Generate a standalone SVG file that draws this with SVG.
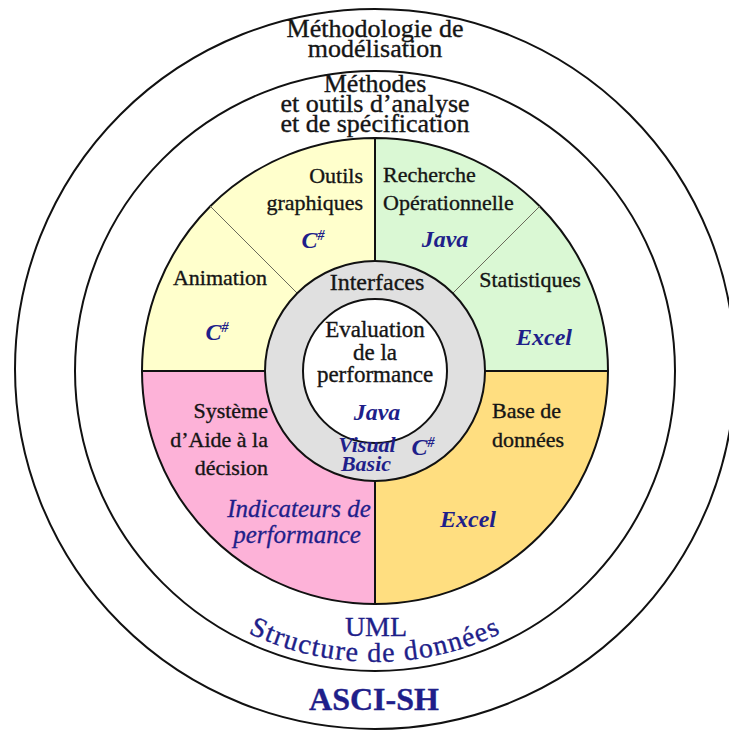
<svg xmlns="http://www.w3.org/2000/svg" width="729" height="731" viewBox="0 0 729 731">
<style>
.ring{fill:none;stroke:#111;stroke-width:2}
.sect{stroke:#111;stroke-width:2}
.diag{stroke:#6a6a5a;stroke-width:1}
.t{font-family:"Liberation Serif","Times New Roman",serif;fill:#151515;stroke:#151515;stroke-width:0.35}
.title{font-size:26px}
.lab{font-size:22px}
.blue{font-family:"Liberation Serif","Times New Roman",serif;fill:#1f1f8a;font-style:italic;font-weight:bold;font-size:24px}
.bluei{font-family:"Liberation Serif","Times New Roman",serif;fill:#1f1f8a;stroke:#1f1f8a;stroke-width:0.3;font-style:italic;font-size:25px}
.blueu{font-family:"Liberation Serif","Times New Roman",serif;fill:#1f1f8a;stroke:#1f1f8a;stroke-width:0.35;font-size:28px}
.sup{font-size:14px}
</style>
<defs>
<path id="arcBottom" d="M 84,371 A 291,291 0 0 0 666,371"/>
</defs>
<rect width="729" height="731" fill="#fff"/>

<g id="asci-sh">
<circle class="ring" cx="375" cy="369" r="360"/>
<text class="blueu" x="374" y="710" text-anchor="middle" font-weight="bold" style="font-size:32px">ASCI-SH</text>
</g>

<g id="methodologie">
<circle class="ring" cx="375" cy="371" r="300"/>
<text class="t title" x="375" y="37" text-anchor="middle">Méthodologie de</text>
<text class="t title" x="375" y="57" text-anchor="middle">modélisation</text>
<text class="blueu" x="376" y="636" text-anchor="middle">UML</text>
<text class="blueu" letter-spacing="1.4"><textPath href="#arcBottom" startOffset="50%" text-anchor="middle">Structure de données</textPath></text>
</g>

<g id="methodes">
<text class="t title" x="375" y="92" text-anchor="middle">Méthodes</text>
<text class="t title" x="375" y="112" text-anchor="middle">et outils d’analyse</text>
<text class="t title" x="375" y="132" text-anchor="middle">et de spécification</text>
</g>

<g id="outils-graphiques">
<path class="sect" fill="#FFFFCC" d="M375,371 L142,371 A233,233 0 0 1 375,138 Z"/>
<text class="t lab" x="363" y="183" text-anchor="end">Outils</text>
<text class="t lab" x="363" y="210" text-anchor="end">graphiques</text>
<text class="blue" x="313" y="248" text-anchor="middle">C<tspan class="sup" dy="-8">#</tspan></text>
<text class="t lab" x="220" y="285" text-anchor="middle">Animation</text>
<text class="blue" x="217" y="340" text-anchor="middle">C<tspan class="sup" dy="-8">#</tspan></text>
</g>

<g id="recherche-operationnelle">
<path class="sect" fill="#DAF8D4" d="M375,371 L375,138 A233,233 0 0 1 608,371 Z"/>
<text class="t lab" x="383" y="182">Recherche</text>
<text class="t lab" x="383" y="210">Opérationnelle</text>
<text class="blue" x="445" y="247" text-anchor="middle">Java</text>
<text class="t lab" x="530" y="287" text-anchor="middle">Statistiques</text>
<text class="blue" x="544" y="345" text-anchor="middle">Excel</text>
</g>

<g id="base-de-donnees">
<path class="sect" fill="#FFDE80" d="M375,371 L608,371 A233,233 0 0 1 375,604 Z"/>
<text class="t lab" x="492" y="418">Base de</text>
<text class="t lab" x="492" y="447">données</text>
<text class="blue" x="468" y="527" text-anchor="middle">Excel</text>
</g>

<g id="systeme-aide-decision">
<path class="sect" fill="#FDB2D8" d="M375,371 L375,604 A233,233 0 0 1 142,371 Z"/>
<text class="t lab" x="268" y="418" text-anchor="end">Système</text>
<text class="t lab" x="268" y="447" text-anchor="end">d’Aide à la</text>
<text class="t lab" x="268" y="475" text-anchor="end">décision</text>
<text class="bluei" x="299" y="517" text-anchor="middle">Indicateurs de</text>
<text class="bluei" x="297" y="543" text-anchor="middle">performance</text>
</g>

<g id="connectors">
<line class="diag" x1="297" y1="293" x2="210" y2="206"/>
<line class="diag" x1="453" y1="293" x2="540" y2="206"/>
</g>

<g id="interfaces">
<circle cx="375" cy="371" r="110" fill="#E0E0E0" stroke="#111" stroke-width="2"/>
<text class="t" x="377" y="290" text-anchor="middle" font-size="24">Interfaces</text>
</g>

<g id="evaluation-performance">
<circle cx="375" cy="371" r="72" fill="#fff" stroke="#111" stroke-width="2"/>
<text class="t" x="375" y="337" text-anchor="middle" font-size="23">Evaluation</text>
<text class="t" x="375" y="360" text-anchor="middle" font-size="23">de la</text>
<text class="t" x="375" y="382" text-anchor="middle" font-size="23">performance</text>
<text class="blue" x="377" y="420" text-anchor="middle">Java</text>
<text class="blue" x="367" y="452" text-anchor="middle" style="font-size:22px">Visual</text>
<text class="blue" x="366" y="471" text-anchor="middle" style="font-size:22px">Basic</text>
<text class="blue" x="423" y="455" text-anchor="middle">C<tspan class="sup" dy="-8">#</tspan></text>
</g>
</svg>
